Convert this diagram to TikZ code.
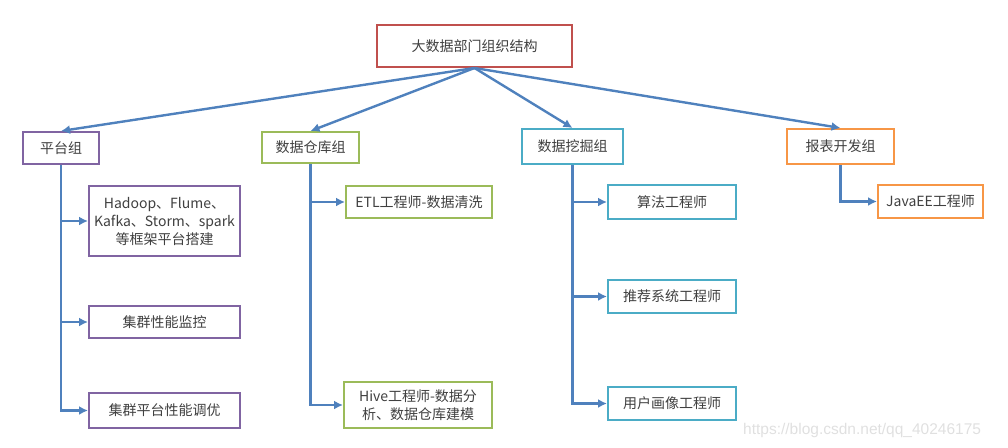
\documentclass[tikz,border=0pt]{standalone}
\usepackage{fontspec}
\setmainfont{Noto Sans CJK SC}
\newfontfamily\wmfont{Liberation Sans}
\usetikzlibrary{arrows.meta}
\definecolor{cred}{HTML}{C0504D}
\definecolor{cpurple}{HTML}{8064A2}
\definecolor{cgreen}{HTML}{9BBB59}
\definecolor{ccyan}{HTML}{4BACC6}
\definecolor{corange}{HTML}{F79646}
\definecolor{cline}{HTML}{4F81BD}
\definecolor{ctext}{HTML}{404040}
\tikzset{
  box/.style={draw=#1, line width=2pt, fill=white, inner sep=2pt, align=center,
    text=ctext, font=\fontsize{14}{18}\selectfont},
  conn/.style={draw=cline, line width=2.4pt, -{Latex[length=9pt,width=9pt]}},
}
\begin{document}
\begin{tikzpicture}[x=1pt,y=-1pt]
\useasboundingbox (0,0) rectangle (1008,447);
% top
\node[box=cred, minimum width=195pt, minimum height=42pt] (top) at (474.5,46) {大数据部门组织结构};
% groups
\node[box=cpurple, minimum width=76pt, minimum height=32pt] (g1) at (61,148) {平台组};
\node[box=cgreen, minimum width=97pt, minimum height=31pt] (g2) at (310.5,147.5) {数据仓库组};
\node[box=ccyan, minimum width=101pt, minimum height=35pt] (g3) at (572.5,146.5) {数据挖掘组};
\node[box=corange, minimum width=107pt, minimum height=35pt] (g4) at (840.5,146.5) {报表开发组};
% platform children
\node[box=cpurple, minimum width=151pt, minimum height=70pt] (b11) at (164.5,221) {Hadoop、Flume、\\Kafka、Storm、spark\\等框架平台搭建};
\node[box=cpurple, minimum width=151pt, minimum height=32pt] (b12) at (164.5,322) {集群性能监控};
\node[box=cpurple, minimum width=151pt, minimum height=35pt] (b13) at (164.5,410.5) {集群平台性能调优};
% warehouse children
\node[box=cgreen, minimum width=146pt, minimum height=32pt] (b21) at (419,202) {ETL工程师-数据清洗};
\node[box=cgreen, minimum width=148pt, minimum height=46pt] (b22) at (418,405) {Hive工程师-数据分\\析、数据仓库建模};
% mining children
\node[box=ccyan, minimum width=128pt, minimum height=34pt] (b31) at (672,202) {算法工程师};
\node[box=ccyan, minimum width=128pt, minimum height=33pt] (b32) at (672,296.5) {推荐系统工程师};
\node[box=ccyan, minimum width=128pt, minimum height=33pt] (b33) at (672,403.5) {用户画像工程师};
% report child
\node[box=corange, minimum width=105pt, minimum height=33pt] (b41) at (930.5,201.5) {JavaEE工程师};
% top arrows
\draw[conn] (top.south) -- (g1.north);
\draw[conn] (top.south) -- (g2.north);
\draw[conn] (top.south) -- (g3.north);
\draw[conn] (top.south) -- (g4.north);
% trunks
\draw[conn] (g1.south) |- (b13.west);
\draw[conn] (g1.south |- b11.west) -- (b11.west);
\draw[conn] (g1.south |- b12.west) -- (b12.west);
\draw[conn] (g2.south) |- (b22.west);
\draw[conn] (g2.south |- b21.west) -- (b21.west);
\draw[conn] (g3.south) |- (b33.west);
\draw[conn] (g3.south |- b31.west) -- (b31.west);
\draw[conn] (g3.south |- b32.west) -- (b32.west);
\draw[conn] (g4.south) |- (b41.west);
% watermark
\node[anchor=west, inner sep=0pt, text=black!12, font=\wmfont\fontsize{15.5}{18}\selectfont] (wm) at (743,430) {https://blog.csdn.net/qq\_40246175};
\end{tikzpicture}
\end{document}
